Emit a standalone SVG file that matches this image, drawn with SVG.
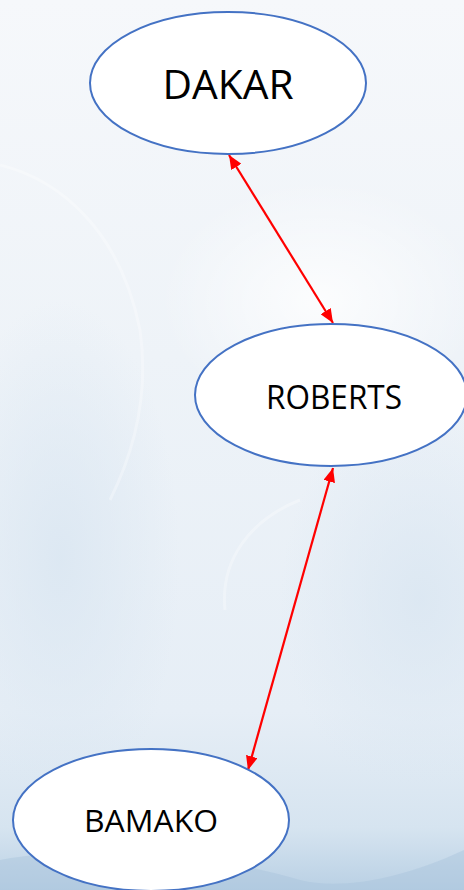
<svg xmlns="http://www.w3.org/2000/svg" width="464" height="890" viewBox="0 0 464 890">
<defs>
<linearGradient id="bg" x1="0" y1="0" x2="0" y2="1">
<stop offset="0" stop-color="#f6f8fb"/>
<stop offset="0.4" stop-color="#eef3f8"/>
<stop offset="0.8" stop-color="#e6eef6"/>
<stop offset="0.93" stop-color="#d6e4f0"/>
<stop offset="1" stop-color="#b9d0e4"/>
</linearGradient>
<radialGradient id="glow1" cx="0.5" cy="0.5" r="0.5">
<stop offset="0" stop-color="#dbe7f2" stop-opacity="0.9"/>
<stop offset="1" stop-color="#dbe7f2" stop-opacity="0"/>
</radialGradient>
<radialGradient id="glow2" cx="0.5" cy="0.5" r="0.5">
<stop offset="0" stop-color="#ffffff" stop-opacity="0.8"/>
<stop offset="1" stop-color="#ffffff" stop-opacity="0"/>
</radialGradient>
<marker id="ah" viewBox="0 0 14 12" refX="14" refY="6" markerWidth="14" markerHeight="12" markerUnits="userSpaceOnUse" orient="auto-start-reverse">
<path d="M0,0 L14,6 L0,12 z" fill="#ff0000"/>
</marker>
<style>
.node ellipse{fill:#ffffff;stroke:#4472c4;stroke-width:2}
.node text{font-family:"Open Sans","Liberation Sans",sans-serif;fill:#000000;text-anchor:middle}
.edge{stroke:#ff0000;stroke-width:2.2;fill:none;marker-start:url(#ah);marker-end:url(#ah)}
</style>
</defs>
<rect x="0" y="0" width="464" height="890" fill="url(#bg)"/>
<ellipse cx="60" cy="560" rx="120" ry="260" fill="url(#glow1)"/>
<ellipse cx="420" cy="600" rx="140" ry="200" fill="url(#glow1)"/>
<ellipse cx="320" cy="300" rx="160" ry="120" fill="url(#glow2)"/>
<path d="M0,165 C60,180 120,230 140,330 C150,400 130,460 110,500" stroke="#ffffff" stroke-opacity="0.3" stroke-width="3" fill="none"/>
<path d="M225,610 C220,560 250,520 300,500" stroke="#ffffff" stroke-opacity="0.3" stroke-width="3" fill="none"/>
<path d="M0,860 C80,845 200,850 300,880 C340,890 400,880 464,850 L464,890 L0,890 z" fill="#a9c4dc" fill-opacity="0.45"/>
<g id="connectors">
<line class="edge" x1="229" y1="155" x2="333" y2="323"/>
<line class="edge" x1="333" y1="468" x2="248" y2="770"/>
</g>
<g id="node-dakar" class="node">
<ellipse cx="228" cy="83" rx="138" ry="71"/>
<text x="228" y="99" font-size="40" textLength="131" lengthAdjust="spacingAndGlyphs">DAKAR</text>
</g>
<g id="node-roberts" class="node">
<ellipse cx="331" cy="395" rx="136" ry="71"/>
<text x="334" y="409" font-size="32" textLength="136" lengthAdjust="spacingAndGlyphs">ROBERTS</text>
</g>
<g id="node-bamako" class="node">
<ellipse cx="151" cy="820" rx="138" ry="71"/>
<text x="151" y="832" font-size="31" textLength="134" lengthAdjust="spacingAndGlyphs">BAMAKO</text>
</g>
</svg>
